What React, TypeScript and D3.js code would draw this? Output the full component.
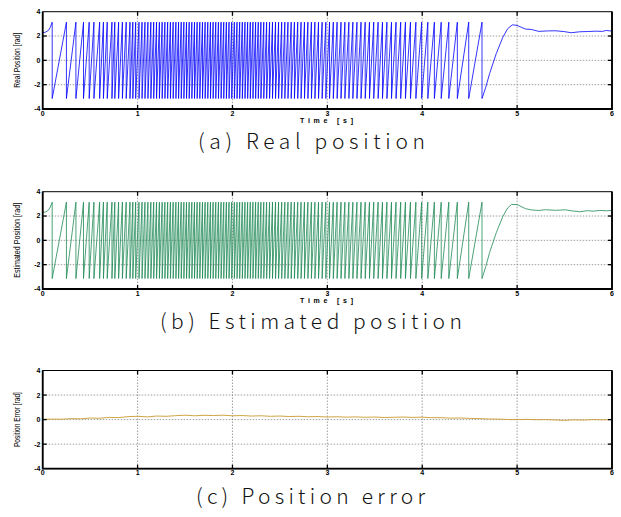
import React, { useEffect, useRef } from "react";
import * as d3 from "d3";

// instants [s] where the electrical angle reaches +pi and falls back to -pi
const wrapTimes = [
  0.10, 0.25, 0.35, 0.43, 0.49, 0.54, 0.60, 0.64, 0.68, 0.73, 0.76, 0.80, 0.84, 0.88, 0.92, 0.95, 0.98,
  1.015, 1.047, 1.078, 1.109, 1.140, 1.170, 1.200, 1.230, 1.259, 1.288, 1.317, 1.346, 1.375, 1.404, 1.432,
  1.460, 1.488, 1.516, 1.544, 1.572, 1.600, 1.628, 1.656, 1.684, 1.712, 1.740, 1.768, 1.796, 1.824, 1.852,
  1.880, 1.908, 1.936, 1.964, 1.992, 2.020, 2.048, 2.076, 2.104, 2.132, 2.160, 2.188, 2.216, 2.244, 2.272,
  2.300, 2.330, 2.360, 2.391, 2.422, 2.454, 2.486, 2.519, 2.552, 2.585, 2.619, 2.653, 2.688, 2.723, 2.759,
  2.795, 2.832, 2.869, 2.907, 2.945, 2.984, 3.023, 3.063, 3.103, 3.144, 3.185, 3.227, 3.269, 3.312, 3.355,
  3.399, 3.444, 3.489, 3.535, 3.581, 3.628, 3.676, 3.724, 3.773, 3.823, 3.876, 3.933, 3.994, 4.059, 4.128,
  4.20, 4.28, 4.37, 4.49, 4.63,
];
const WRAP = 3.14;

// start-up and settling parts of the two angle traces [t, rad]
const realHead = [[0, 2.27], [0.03, 2.32], [0.06, 2.46], [0.08, 2.72], [0.10, 3.14]];
const realTail = [
  [4.67, -2.2], [4.71, -1.09], [4.78, 0.55], [4.85, 1.91], [4.9, 2.6], [4.95, 2.92], [5.0, 2.87],
  [5.05, 2.7], [5.09, 2.57], [5.15, 2.54], [5.23, 2.38], [5.32, 2.42], [5.41, 2.43], [5.5, 2.36],
  [5.57, 2.27], [5.66, 2.35], [5.75, 2.37], [5.83, 2.4], [5.9, 2.38], [5.94, 2.46], [6.0, 2.4],
];
const estHead = [[0, 2.3], [0.03, 2.33], [0.06, 2.48], [0.08, 2.74], [0.10, 3.14]];
const estTail = [
  [4.67, -2.15], [4.71, -1.0], [4.78, 0.62], [4.85, 1.98], [4.9, 2.66], [4.94, 2.95], [5.0, 2.94],
  [5.05, 2.75], [5.09, 2.6], [5.15, 2.5], [5.23, 2.46], [5.3, 2.52], [5.4, 2.47], [5.51, 2.51],
  [5.58, 2.42], [5.66, 2.35], [5.74, 2.44], [5.8, 2.4], [5.87, 2.46], [5.94, 2.43], [6.0, 2.46],
];

const errTimes = d3.range(0, 61).map(i => i / 10);
const errValues = [
  0.02, 0.04, 0.03, 0.08, 0.06, 0.13, 0.11, 0.18, 0.16, 0.24, 0.27, 0.22, 0.29, 0.27, 0.32, 0.36,
  0.31, 0.35, 0.33, 0.36, 0.31, 0.33, 0.29, 0.31, 0.27, 0.29, 0.25, 0.27, 0.23, 0.25, 0.21, 0.23,
  0.2, 0.22, 0.19, 0.21, 0.17, 0.19, 0.21, 0.18, 0.2, 0.15, 0.16, 0.12, 0.13, 0.1, 0.08, 0.05,
  0.04, 0.01, 0.0, 0.02, -0.01, 0.0, -0.03, -0.06, -0.02, -0.04, 0.0, -0.02, 0.0,
];

const xTicks = [0, 1, 2, 3, 4, 5, 6];
const yTicks = [-4, -2, 0, 2, 4];

function sawtooth(head, tail) {
  var pts = head.slice();
  wrapTimes.forEach((t, i) => {
    pts.push([t, -WRAP]);
    if (i < wrapTimes.length - 1) pts.push([wrapTimes[i + 1], WRAP]);
  });
  return pts.concat(tail);
}

const panels = [
  { top: 11.7, bottom: 109, ylabel: "Real Position [rad]", labelLen: 55, color: "#0000ff",
    data: () => sawtooth(realHead, realTail), time: true,
    caption: "(a) Real position", capY: 149, capX: 198, capLen: 227 },
  { top: 191.7, bottom: 289, ylabel: "Estimated Position [rad]", labelLen: 75, color: "#1f8a55",
    data: () => sawtooth(estHead, estTail), time: true,
    caption: "(b) Estimated position", capY: 329, capX: 160, capLen: 302 },
  { top: 370.5, bottom: 468.7, ylabel: "Position Error [rad]", labelLen: 55, color: "#c99a2e",
    data: () => errTimes.map((t, i) => [t, errValues[i]]), time: false,
    caption: "(c) Position error", capY: 504, capX: 196, capLen: 229 },
];

export default function App() {
  const ref = useRef(null);

  useEffect(() => {
    const svg = d3.select(ref.current);
    svg.selectAll("*").remove();
    const left = 42.7, right = 612;
    const x = d3.scaleLinear().domain([0, 6]).range([left, right]);

    panels.forEach(p => {
      const y = d3.scaleLinear().domain([-4, 4]).range([p.bottom, p.top]);
      const g = svg.append("g");

      // dotted grid
      g.selectAll(".gx").data(xTicks.slice(1, -1)).join("line")
        .attr("x1", d => x(d)).attr("x2", d => x(d))
        .attr("y1", p.top).attr("y2", p.bottom)
        .attr("stroke", "#777").attr("stroke-width", 0.7).attr("stroke-dasharray", "1.5,1.5");
      g.selectAll(".gy").data(yTicks.slice(1, -1)).join("line")
        .attr("x1", left).attr("x2", right)
        .attr("y1", d => y(d)).attr("y2", d => y(d))
        .attr("stroke", "#777").attr("stroke-width", 0.7).attr("stroke-dasharray", "1.5,1.5");

      const line = d3.line().x(d => x(d[0])).y(d => y(d[1]));
      g.append("path")
        .datum(p.data())
        .attr("d", line)
        .attr("fill", "none")
        .attr("stroke", p.color)
        .attr("stroke-width", p.time ? 0.8 : 0.9)
        .attr("stroke-linejoin", "round");

      // box
      g.append("rect").attr("x", left).attr("y", p.top)
        .attr("width", right - left).attr("height", p.bottom - p.top)
        .attr("fill", "none").attr("stroke", "#000").attr("stroke-width", 1);
      g.append("path")
        .attr("d", `M${left},${p.top}V${p.bottom}H${right}V${p.top}`)
        .attr("fill", "none").attr("stroke", "#000").attr("stroke-width", 1.8);

      // inward ticks
      xTicks.slice(1, -1).forEach(t => {
        g.append("line").attr("x1", x(t)).attr("x2", x(t)).attr("y1", p.bottom).attr("y2", p.bottom - 4)
          .attr("stroke", "#000").attr("stroke-width", 1.3);
        g.append("line").attr("x1", x(t)).attr("x2", x(t)).attr("y1", p.top).attr("y2", p.top + 4)
          .attr("stroke", "#000").attr("stroke-width", 1.3);
      });
      yTicks.slice(1, -1).forEach(t => {
        g.append("line").attr("x1", left).attr("x2", left + 4).attr("y1", y(t)).attr("y2", y(t))
          .attr("stroke", "#000").attr("stroke-width", 1.3);
        g.append("line").attr("x1", right).attr("x2", right - 4).attr("y1", y(t)).attr("y2", y(t))
          .attr("stroke", "#000").attr("stroke-width", 1.3);
      });

      // tick labels
      g.selectAll(".yl").data(yTicks).join("text")
        .attr("x", 40.5).attr("y", d => y(d)).attr("dy", "0.35em")
        .attr("text-anchor", "end")
        .attr("font-family", "Liberation Sans, Arial, sans-serif")
        .attr("font-weight", "bold").attr("font-size", 7)
        .text(d => String(d));
      g.selectAll(".xl").data(xTicks).join("text")
        .attr("x", d => x(d)).attr("y", p.bottom + 6.5)
        .attr("text-anchor", "middle")
        .attr("font-family", "Liberation Sans, Arial, sans-serif")
        .attr("font-weight", "bold").attr("font-size", 7)
        .text(d => String(d));

      if (p.time) {
        g.append("text")
          .attr("x", 300).attr("y", p.bottom + 14)
          .attr("font-family", "Liberation Sans, Arial, sans-serif")
          .attr("font-weight", "bold").attr("font-size", 7)
          .attr("textLength", 53).attr("lengthAdjust", "spacing")
          .text("Time [s]");
      }

      const cy = y(0);
      g.append("text")
        .attr("transform", `translate(19.5,${cy}) rotate(-90)`)
        .attr("text-anchor", "middle")
        .attr("font-family", "Liberation Sans Narrow, Liberation Sans, sans-serif")
        .attr("font-size", 8.5)
        .attr("textLength", p.labelLen).attr("lengthAdjust", "spacingAndGlyphs")
        .text(p.ylabel);

      svg.append("text")
        .attr("x", p.capX).attr("y", p.capY)
        .attr("font-family", "Noto Sans CJK KR, Noto Sans, sans-serif")
        .attr("font-size", 21)
        .attr("font-weight", 300)
        .attr("fill", "#111")
        .attr("textLength", p.capLen).attr("lengthAdjust", "spacing")
        .text(p.caption);
    });
  }, []);

  return (
    <svg
      ref={ref}
      width={621}
      height={517}
      style={{ position: "absolute", left: 0, top: 0, background: "#fff" }}
    />
  );
}
